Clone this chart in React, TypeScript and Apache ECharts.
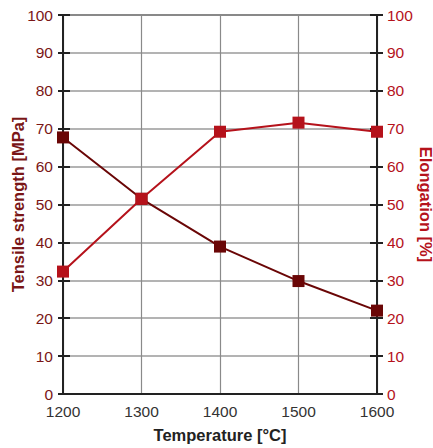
import React, { useEffect, useRef } from "react";
import * as echarts from "echarts";

const temperatures = [1200, 1300, 1400, 1500, 1600];
const tensileStrength = [67.7, 51.5, 38.9, 29.8, 22.0];
const elongation = [32.3, 51.5, 69.2, 71.6, 69.2];

const FONT = "Liberation Sans, Arial, Helvetica, sans-serif";
const MAROON = "#6a0606";
const RED = "#b5121b";
const LEFT_LABEL = "#7a1616";

export default function App() {
  const ref = useRef<HTMLDivElement>(null);
  useEffect(() => {
    if (!ref.current) return;
    const chart = echarts.init(ref.current, null, { renderer: "svg" });
    const yBase = {
      type: "value" as const,
      min: 0,
      max: 100,
      interval: 10,
    };
    chart.setOption({
      animation: false,
      grid: {
        left: 63,
        right: 56,
        top: 15,
        bottom: 54,
        show: true,
        borderColor: "#222",
        borderWidth: 1.5,
        containLabel: false,
        outerBoundsMode: "none",
      },
      xAxis: {
        type: "value",
        min: 1200,
        max: 1600,
        interval: 100,
        name: "Temperature [°C]",
        nameLocation: "middle",
        nameGap: 32,
        nameMoveOverlap: false,
        nameTextStyle: { fontFamily: FONT, fontSize: 16.5, fontWeight: "bold", color: "#222" },
        axisLine: { show: true, lineStyle: { color: "#222", width: 2 } },
        axisTick: { show: false },
        axisLabel: {
          fontFamily: FONT,
          fontSize: 15.5,
          color: "#333",
          margin: 9,
          formatter: (v: number) => String(v),
        },
        splitLine: { show: true, lineStyle: { color: "#8a8a8a", width: 1.2 } },
      },
      yAxis: [
        {
          ...yBase,
          position: "left",
          name: "Tensile strength [MPa]",
          nameLocation: "middle",
          nameGap: 37,
          nameMoveOverlap: false,
          nameTextStyle: { fontFamily: FONT, fontSize: 16.5, fontWeight: "bold", color: LEFT_LABEL },
          axisLine: { show: true, lineStyle: { color: "#222", width: 2 } },
          axisTick: { show: true, length: 5, lineStyle: { color: "#222", width: 2 } },
          axisLabel: { fontFamily: FONT, fontSize: 15.5, color: LEFT_LABEL, margin: 10 },
          splitLine: { show: true, lineStyle: { color: "#9a9a9a", width: 1.5 } },
        },
        {
          ...yBase,
          position: "right",
          name: "Elongation [%]",
          nameLocation: "middle",
          nameGap: 40,
          nameRotate: -90,
          nameMoveOverlap: false,
          nameTextStyle: { fontFamily: FONT, fontSize: 16.5, fontWeight: "bold", color: RED },
          axisLine: { show: true, lineStyle: { color: "#222", width: 2 } },
          axisTick: { show: true, length: 6, lineStyle: { color: "#222", width: 2 } },
          axisLabel: { fontFamily: FONT, fontSize: 15.5, color: RED, margin: 10 },
          splitLine: { show: false },
        },
        {
          ...yBase,
          position: "left",
          axisLine: { show: false },
          axisTick: { show: true, inside: true, length: 7, lineStyle: { color: "#222", width: 2 } },
          axisLabel: { show: false },
          splitLine: { show: false },
        },
        {
          ...yBase,
          position: "right",
          axisLine: { show: false },
          axisTick: { show: true, inside: true, length: 7, lineStyle: { color: "#222", width: 2 } },
          axisLabel: { show: false },
          splitLine: { show: false },
        },
      ],
      series: [
        {
          name: "Tensile strength",
          type: "line",
          yAxisIndex: 0,
          data: temperatures.map((t, i) => [t, tensileStrength[i]]),
          symbol: "rect",
          symbolSize: 12,
          lineStyle: { color: MAROON, width: 2 },
          itemStyle: { color: MAROON },
          z: 3,
        },
        {
          name: "Elongation",
          type: "line",
          yAxisIndex: 1,
          data: temperatures.map((t, i) => [t, elongation[i]]),
          symbol: "rect",
          symbolSize: 12,
          lineStyle: { color: RED, width: 2 },
          itemStyle: { color: RED },
          z: 4,
        },
      ],
    });
    return () => chart.dispose();
  }, []);
  return (
    <div
      ref={ref}
      style={{ position: "fixed", left: 0, top: 0, width: 433, height: 448, background: "#fff" }}
    />
  );
}
